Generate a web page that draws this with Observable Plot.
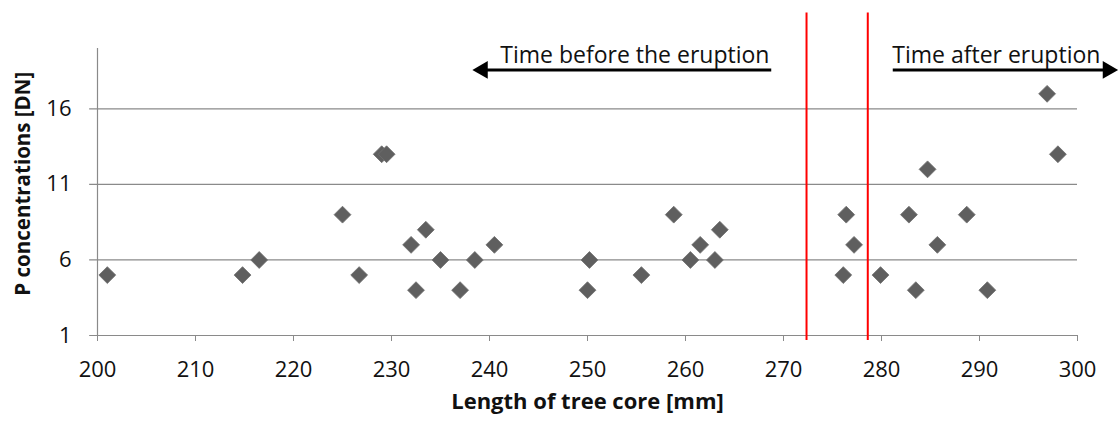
<!DOCTYPE html>
<html>
<head>
<meta charset="utf-8">
<script src="https://cdn.jsdelivr.net/npm/d3@7"></script>
<script src="https://cdn.jsdelivr.net/npm/@observablehq/plot@0.6"></script>
<style>
  html, body { margin: 0; padding: 0; background: #fff; }
  svg { font-family: "Open Sans", "Noto Sans", sans-serif; }
</style>
</head>
<body>
<div id="chart"></div>
<script>
// Data
const coreLength = [201, 214.8, 216.5, 225, 226.7, 229, 229.5, 232, 232.5, 233.5, 235, 237, 238.5, 240.5,
  250, 250.2, 255.5, 258.8, 260.5, 261.5, 263, 263.5,
  276.1, 276.4, 277.2, 279.9, 282.8, 283.5, 284.7, 285.7, 288.7, 290.8, 296.9, 298];
const pConc = [5, 5, 6, 9, 5, 13, 13, 7, 4, 8, 6, 4, 6, 7,
  4, 6, 5, 9, 6, 7, 6, 8,
  5, 9, 7, 5, 9, 4, 12, 7, 9, 4, 17, 13];
const xTicks = [200, 210, 220, 230, 240, 250, 260, 270, 280, 290, 300];
const yTicks = [1, 6, 11, 16];
const eruptionBounds = [272.35, 278.6];
const annotationLabels = ["Time before the eruption", "Time after eruption"];
const annotationTextX = [241.1, 281.1];
const arrowFrom = [268.8, 281.2];
const arrowTip = [239.3, 303.1];
const arrowDir = [-90, 90];

const points = coreLength.map((x, i) => ({x, y: pConc[i]}));
const arrows = arrowFrom.map((f, i) => ({x1: f, x2: arrowTip[i], rot: arrowDir[i]}));
const annotations = annotationLabels.map((t, i) => ({t, x: annotationTextX[i]}));

const chart = Plot.plot({
  width: 1119,
  height: 424,
  marginLeft: 97,
  marginRight: 42,
  marginTop: 48,
  marginBottom: 89,
  style: {fontFamily: '"Open Sans", sans-serif', background: "#fff"},
  x: {domain: [200, 300]},
  y: {domain: [1, 20]},
  marks: [
    Plot.ruleY(yTicks, {x1: 199.2, x2: 300, stroke: "#8a8a8a", strokeWidth: 1.2}),
    Plot.ruleX([200], {y1: 1, y2: 20, stroke: "#8a8a8a", strokeWidth: 1.2}),
    Plot.axisX({ticks: xTicks, tickSize: 6, tickPadding: 20, fontSize: 22, stroke: "#8a8a8a", color: "#111", label: null, tickFormat: d => String(d)}),
    Plot.axisY({ticks: yTicks, tickSize: 0, tickPadding: 26, fontSize: 22, color: "#111", label: null, tickFormat: d => String(d)}),
    Plot.text(["Length of tree core [mm]"], {frameAnchor: "bottom", dy: 73, fontSize: 22, fontWeight: "bold", fill: "#111"}),
    Plot.text(["P concentrations [DN]"], {x: 192.45, y: 11.05, rotate: -90, fontSize: 20.5, fontWeight: "bold", fill: "#111"}),
    Plot.ruleX(eruptionBounds, {y1: 0.67, y2: 22.35, stroke: "#ff0000", strokeWidth: 2}),
    Plot.dot(points, {x: "x", y: "y", symbol: "diamond2", r: 7.6, fill: "#5f5f5f", stroke: "#6e6e6e", strokeWidth: 0.8}),
    Plot.ruleY(arrows, {y: 18.58, x1: "x1", x2: "x2", stroke: "#000", strokeWidth: 3}),
    Plot.dot(arrows, {x: "x2", y: 18.58, symbol: "triangle", r: 6.6, rotate: "rot", fill: "#000"}),
    Plot.text(annotations, {x: "x", y: 19.5, text: "t", textAnchor: "start", fontSize: 23, fill: "#111"})
  ]
});
document.getElementById("chart").appendChild(chart);
</script>
</body>
</html>
